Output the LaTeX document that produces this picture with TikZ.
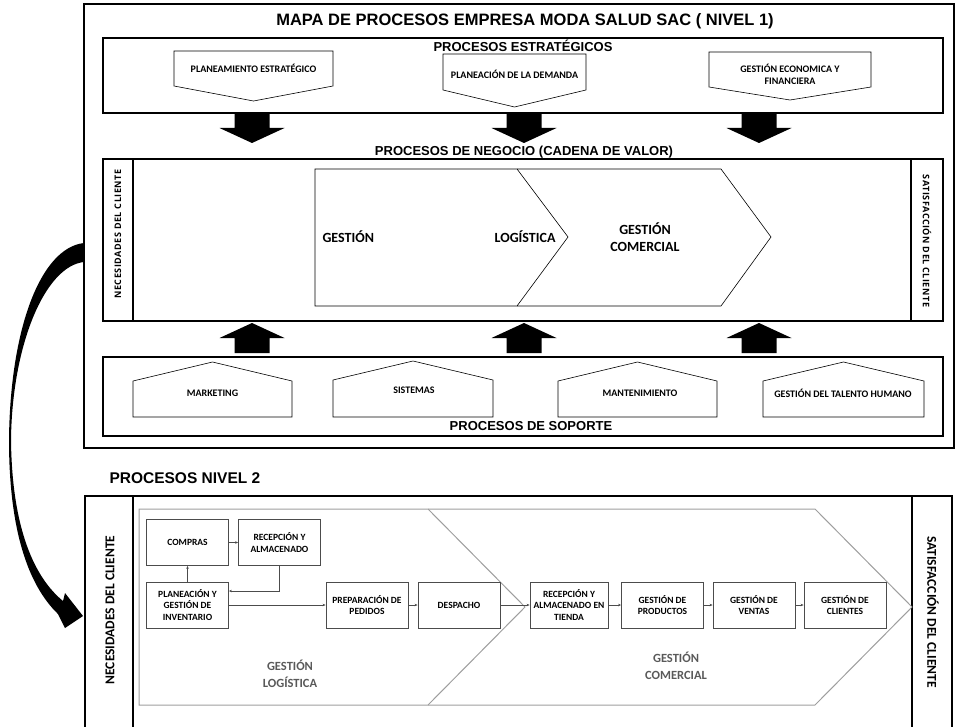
\documentclass[tikz,border=0pt]{standalone}
\usepackage{fontspec}
\setmainfont{Liberation Sans}
\newfontfamily\calibri{Carlito}
\newfontfamily\lateralfont[LetterSpace=6]{Open Sans}
\usetikzlibrary{arrows.meta}
\definecolor{grisclaro}{gray}{0.62}
\definecolor{grisborde}{gray}{0.3}
\definecolor{gristexto}{gray}{0.35}
\tikzset{
  marco/.style={line width=1.8pt},
  forma/.style={line width=0.6pt},
  titulo/.style={font=\fontsize{13}{15}\selectfont\bfseries},
  textop/.style={font=\calibri\fontsize{10}{12}\selectfont\bfseries, align=center},
  grande/.style={font=\calibri\fontsize{14}{17}\selectfont\bfseries, align=center},
  lateral/.style={font=\lateralfont\fontsize{9}{10}\selectfont\bfseries},
  lateraldos/.style={font=\calibri\fontsize{13.5}{15}\selectfont\bfseries},
  caja/.style={draw=grisborde, line width=0.8pt, minimum width=82pt, minimum height=46pt,
    inner sep=1pt, align=center, font=\calibri\fontsize{9.5}{11.5}\selectfont\bfseries},
  flecha/.style={-{Stealth[length=3pt,width=2.5pt]}, line width=0.6pt, grisborde}
}

\begin{document}
\begin{tikzpicture}[x=1pt,y=-1pt]
  \useasboundingbox (0,0) rectangle (957,727);
  % nivel 1
  \draw[marco] (84,4) rectangle (954,448);
  \node[font=\fontsize{16.5}{18}\selectfont\bfseries] (mapa) at (525,21) {MAPA DE PROCESOS EMPRESA MODA SALUD SAC ( NIVEL 1)};
  % procesos estrategicos
  \draw[marco] (103,38) rectangle (943,113);
  \node[titulo] (estrat) at (523,46) {PROCESOS ESTRATÉGICOS};
  \draw[forma] (174,51) -- (333,51) -- (333,86) -- (253.5,101) -- (174,86) -- cycle;
  \draw[forma] (443,54) -- (586,54) -- (586,90) -- (514.5,107) -- (443,90) -- cycle;
  \draw[forma] (709,52) -- (871,52) -- (871,87) -- (790,100) -- (709,87) -- cycle;
  \node[textop] (plan) at (253.5,68) {PLANEAMIENTO ESTRATÉGICO};
  \node[textop] (dem) at (514.5,74) {PLANEACIÓN DE LA DEMANDA};
  \node[textop] (eco) at (790,74) {GESTIÓN ECONOMICA Y\\FINANCIERA};
  \foreach \x in {252,524,759}{
    \fill ({\x-17.5},114) -- ({\x+17.5},114) -- ({\x+17.5},128) -- ({\x+32.5},128)
      -- (\x,143) -- ({\x-32.5},128) -- ({\x-17.5},128) -- cycle;
    \fill ({\x-17.5},353) -- ({\x+17.5},353) -- ({\x+17.5},338) -- ({\x+32.5},338)
      -- (\x,323) -- ({\x-32.5},338) -- ({\x-17.5},338) -- cycle;
  }
  % cadena de valor
  \node[titulo] (neg) at (524,152) {PROCESOS DE NEGOCIO (CADENA DE VALOR)};
  \draw[marco] (103,159) rectangle (943,321);
  \draw[marco] (133,159) -- (133,321);
  \draw[marco] (911,159) -- (911,321);
  \node[lateral, rotate=90] (nec1) at (118,234) {NECESIDADES DEL CLIENTE};
  \node[lateral, rotate=-90] (sat1) at (927,241) {SATISFACCIÓN DEL CLIENTE};
  \draw[forma] (315,169) -- (517,169) -- (568,237) -- (517,306) -- (315,306) -- cycle;
  \draw[forma] (517,169) -- (721,169) -- (771,237) -- (721,306) -- (517,306);
  \node[grande, anchor=west] (gest1) at (319,237) {GESTIÓN};
  \node[grande, anchor=east] (log1) at (559,237) {LOGÍSTICA};
  \node[grande] (com1) at (645,237.5) {GESTIÓN\\COMERCIAL};
  % procesos de soporte
  \draw[marco] (103,357) rectangle (943,436);
  \draw[forma] (133,417) -- (133,381) -- (212.5,362) -- (292,381) -- (292,417) -- cycle;
  \draw[forma] (333,417) -- (333,380) -- (413,361) -- (493,380) -- (493,417) -- cycle;
  \draw[forma] (558,417) -- (558,381) -- (637.5,362) -- (717,381) -- (717,417) -- cycle;
  \draw[forma] (763,417) -- (763,381) -- (843.5,362) -- (924,381) -- (924,417) -- cycle;
  \node[textop] (mkt) at (212.5,393) {MARKETING};
  \node[textop] (sis) at (414,390) {SISTEMAS};
  \node[textop] (mant) at (640,393) {MANTENIMIENTO};
  \node[textop] (tal) at (843,393) {GESTIÓN DEL TALENTO HUMANO};
  \node[titulo] (sop) at (531,426) {PROCESOS DE SOPORTE};
  % flecha curva
  \fill (84,243) .. controls (40,248) and (10,330) .. (9,440)
    .. controls (9,530) and (28,585) .. (58,614) -- (65,628) -- (83,616) -- (65,593)
    -- (63,601) .. controls (35,578) and (12,530) .. (11,440)
    .. controls (12,345) and (45,266) .. (84,262) -- cycle;
  % nivel 2
  \node[font=\fontsize{15.5}{17}\selectfont\bfseries, anchor=west] (niv2) at (106,478) {PROCESOS NIVEL 2};
  \draw[marco] (85,727) -- (85,496) -- (952,496) -- (952,727);
  \draw[marco] (133,496) -- (133,727);
  \draw[marco] (912,496) -- (912,727);
  \node[lateraldos, rotate=90] (nec2) at (110,610) {NECESIDADES DEL CLIENTE};
  \node[lateraldos, rotate=-90] (sat2) at (933,612) {SATISFACCIÓN DEL CLIENTE};
  \draw[grisclaro, line width=1pt] (139,509) -- (428,509) -- (525,607) -- (428,705) -- (139,705) -- cycle;
  \draw[grisclaro, line width=1pt] (428,509) -- (815,509) -- (912,607) -- (815,705) -- (428,705);
  \node[grande, gristexto, font=\calibri\fontsize{12.5}{17}\selectfont\bfseries] (gest2) at (290,673.5) {GESTIÓN\\LOGÍSTICA};
  \node[grande, gristexto, font=\calibri\fontsize{12.5}{17}\selectfont\bfseries] (com2) at (676,666) {GESTIÓN\\COMERCIAL};
  \node[caja] (compras) at (187.5,542.5) {COMPRAS};
  \node[caja] (recep) at (279.5,542.5) {RECEPCIÓN Y\\ALMACENADO};
  \node[caja] (plan2) at (187.5,605) {PLANEACIÓN Y\\GESTIÓN DE\\INVENTARIO};
  \node[caja] (prep) at (367,605) {PREPARACIÓN DE\\PEDIDOS};
  \node[caja] (desp) at (459,605) {DESPACHO};
  \node[caja, minimum width=78pt] (tienda) at (569,605) {RECEPCIÓN Y\\ALMACENADO EN\\TIENDA};
  \node[caja] (prod) at (662.5,605) {GESTIÓN DE\\PRODUCTOS};
  \node[caja] (ventas) at (754,605) {GESTIÓN DE\\VENTAS};
  \node[caja] (clientes) at (845,605) {GESTIÓN DE\\CLIENTES};
  \draw[flecha] (compras) -- (recep);
  \draw[flecha] (recep.south) |- ([yshift=14pt]plan2.east);
  \draw[flecha] (plan2) -- (compras);
  \draw[flecha] (plan2) -- (prep);
  \draw[flecha] (prep) -- (desp);
  \draw[flecha] (desp) -- (tienda);
  \draw[flecha] (tienda) -- (prod);
  \draw[flecha] (prod) -- (ventas);
  \draw[flecha] (ventas) -- (clientes);
\end{tikzpicture}
\end{document}
